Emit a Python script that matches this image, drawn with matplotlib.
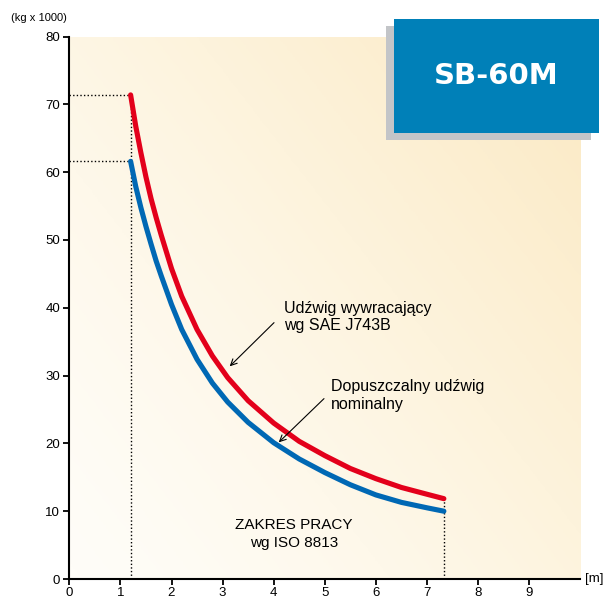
import numpy as np
import matplotlib
matplotlib.use("Agg")
import matplotlib.pyplot as plt
from matplotlib.patches import Rectangle
from matplotlib.colors import LinearSegmentedColormap

plt.rcParams['font.family'] = ['Liberation Sans', 'DejaVu Sans']

# ---- data ----
red_x = [1.2, 1.3, 1.4, 1.5, 1.6, 1.7, 1.8, 2.0, 2.2, 2.5, 2.8, 3.1, 3.5, 4.0,
         4.5, 5.0, 5.5, 6.0, 6.5, 7.0, 7.33]
red_y = [71.4, 66.8, 62.9, 59.3, 56.1, 53.3, 50.7, 45.8, 41.7, 36.8, 32.9, 29.7,
         26.3, 23.0, 20.3, 18.2, 16.3, 14.8, 13.5, 12.5, 11.85]
blue_x = [1.2, 1.3, 1.4, 1.5, 1.6, 1.7, 1.8, 2.0, 2.2, 2.5, 2.8, 3.1, 3.5, 4.0,
          4.5, 5.0, 5.5, 6.0, 6.5, 7.0, 7.33]
blue_y = [61.6, 57.9, 54.8, 52.0, 49.4, 46.9, 44.7, 40.5, 36.8, 32.4, 28.9, 26.1,
          23.1, 20.1, 17.7, 15.7, 13.9, 12.4, 11.3, 10.5, 10.0]
x_ticks = [0, 1, 2, 3, 4, 5, 6, 7, 8, 9]
y_ticks = [0, 10, 20, 30, 40, 50, 60, 70, 80]
title = "SB-60M"
label_red = "Udźwig wywracający\nwg SAE J743B"
label_blue = "Dopuszczalny udźwig\nnominalny"
label_range = "ZAKRES PRACY\nwg ISO 8813"

W, H = 607, 601
fig = plt.figure(figsize=(W / 100, H / 100), dpi=100)
fig.patch.set_facecolor('white')

def px(x, y):
    return x / W, 1 - y / H

ax = fig.add_axes([69.3 / W, 22 / H, 511 / W, 542.4 / H])
ax.set_xlim(0, 10)
ax.set_ylim(0, 80)

# background gradient
u = np.linspace(0, 1, 300)
U, V = np.meshgrid(u, u)
t = np.clip((0.55 * U + 0.45 * V), 0, 1) ** 1.3
cmap = LinearSegmentedColormap.from_list('bg', ['#fffdf8', '#fdf3dc', '#fbe9c3'])
ax.imshow(t, extent=[0, 10, 0, 80], origin='lower', aspect='auto', cmap=cmap,
          vmin=0, vmax=1, zorder=0, interpolation='bilinear')

# dotted guide lines
dot = dict(color='black', lw=1.0, ls=(0, (1, 1.6)), zorder=2)
ax.plot([0, red_x[0]], [red_y[0], red_y[0]], **dot)
ax.plot([0, blue_x[0]], [blue_y[0], blue_y[0]], **dot)
ax.plot([red_x[0], red_x[0]], [0, red_y[0]], **dot)
ax.plot([red_x[-1], red_x[-1]], [0, red_y[-1]], **dot)

# curves
ax.plot(red_x, red_y, color='#e3001b', lw=3.7, solid_capstyle='round',
        solid_joinstyle='round', zorder=4)
ax.plot(blue_x, blue_y, color='#0068b4', lw=3.7, solid_capstyle='round',
        solid_joinstyle='round', zorder=4)

def d(xp, yp):
    return ((xp - 69.3) / 51.1, (579 - yp) / 6.78)

arrow = dict(arrowstyle='->,head_length=0.45,head_width=0.22', color='black', lw=0.8)
ax.annotate('', xy=d(227.7, 368.3), xytext=d(276, 320.7), arrowprops=arrow, zorder=5)
ax.annotate('', xy=d(276.7, 444.3), xytext=d(326, 396.7), arrowprops=arrow, zorder=5)

ax.text(*d(284, 317), label_red, fontsize=11.5, ha='left', va='center',
        linespacing=1.2, zorder=5)
ax.text(*d(330.5, 395.5), label_blue, fontsize=11.5, ha='left', va='center',
        linespacing=1.2, zorder=5)
ax.text(*d(294, 534), label_range, fontsize=11, ha='center', va='center',
        linespacing=1.45, zorder=5)

# axes styling
for s in ['top', 'right']:
    ax.spines[s].set_visible(False)
for s in ['left', 'bottom']:
    ax.spines[s].set_linewidth(1.5)
    ax.spines[s].set_zorder(6)
ax.set_xticks(x_ticks)
ax.set_yticks(y_ticks)
ax.tick_params(axis='both', direction='out', length=4.5, width=1.3, labelsize=9.5,
               colors='black')
ax.tick_params(axis='x', pad=1.0)
ax.tick_params(axis='y', pad=2)

fig.text(*px(11, 18), "(kg x 1000)", fontsize=8, ha='left', va='center')
fig.text(*px(585, 579), "[m]", fontsize=9.5, ha='left', va='center')

# title box
fig.patches.append(Rectangle(px(386, 140), 205 / W, 114 / H, transform=fig.transFigure,
                             facecolor='#c3c5c8', edgecolor='none', zorder=10))
fig.patches.append(Rectangle(px(394, 132.7), 205 / W, 113.7 / H, transform=fig.transFigure,
                             facecolor='#0080b8', edgecolor='none', zorder=11))
fig.text(*px(496, 75.5), title, fontsize=21, fontweight='bold', color='white',
         family='DejaVu Sans', ha='center', va='center', zorder=12)

fig.savefig('out.png', dpi=100)
